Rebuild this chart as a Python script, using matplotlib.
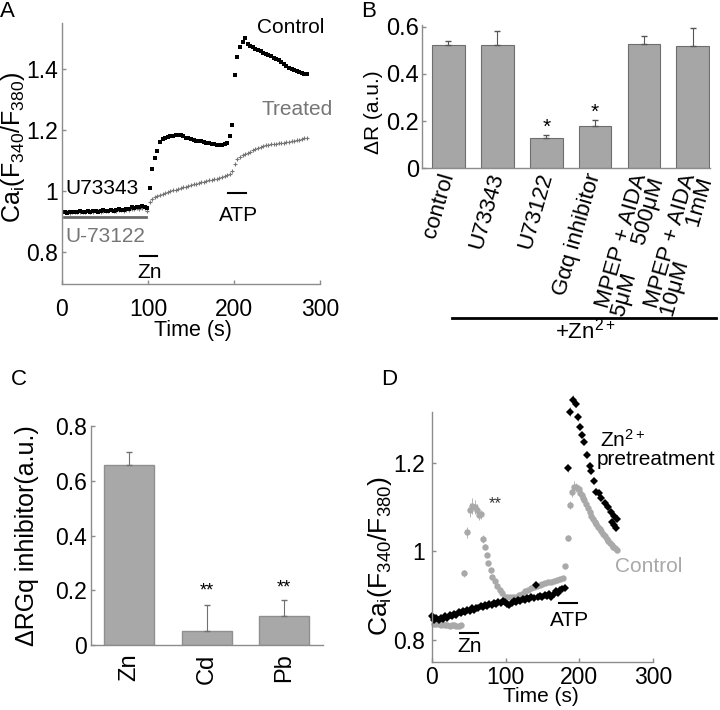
import numpy as np
import matplotlib.pyplot as plt
from matplotlib.lines import Line2D
from matplotlib.transforms import ScaledTranslation

plt.rcParams['font.family'] = ['Liberation Sans', 'DejaVu Sans']
plt.rcParams['mathtext.fontset'] = 'custom'
plt.rcParams['mathtext.rm'] = 'Liberation Sans'
plt.rcParams['mathtext.it'] = 'Liberation Sans:italic'

# ---------------- data ----------------
# panel A: ratio traces, sampled every 3 s
t_a = np.arange(0, 286, 3)
control_a = [0.930, 0.932, 0.929, 0.931, 0.933, 0.930, 0.932, 0.934, 0.931, 0.933,
             0.935, 0.932, 0.934, 0.936, 0.933, 0.935, 0.937, 0.934, 0.936, 0.938,
             0.936, 0.938, 0.940, 0.937, 0.939, 0.942, 0.940, 0.948, 0.946, 0.949,
             0.947, 0.950, 0.948, 0.943, 1.009, 1.072, 1.109, 1.133, 1.162, 1.170,
             1.174, 1.177, 1.180, 1.182, 1.183, 1.184, 1.183, 1.180, 1.176, 1.173,
             1.170, 1.168, 1.166, 1.164, 1.163, 1.161, 1.159, 1.157, 1.156, 1.155,
             1.153, 1.152, 1.153, 1.154, 1.158, 1.180, 1.216, 1.380, 1.440, 1.473,
             1.490, 1.504, 1.483, 1.478, 1.472, 1.468, 1.463, 1.459, 1.455, 1.450,
             1.446, 1.442, 1.437, 1.433, 1.429, 1.423, 1.418, 1.412, 1.405, 1.401,
             1.397, 1.394, 1.391, 1.389, 1.386, 1.384]
treated_a = [0.928, 0.931, 0.930, 0.929, 0.932, 0.931, 0.930, 0.933, 0.932, 0.931,
             0.934, 0.933, 0.932, 0.935, 0.934, 0.933, 0.936, 0.935, 0.934, 0.937,
             0.936, 0.935, 0.938, 0.937, 0.936, 0.939, 0.938, 0.940, 0.941, 0.943,
             0.942, 0.944, 0.945, 0.935, 0.965, 0.975, 0.980, 0.984, 0.988, 0.991,
             0.994, 0.997, 1.000, 1.003, 1.005, 1.008, 1.010, 1.013, 1.015, 1.018,
             1.020, 1.022, 1.024, 1.027, 1.029, 1.031, 1.033, 1.035, 1.037, 1.039,
             1.041, 1.043, 1.046, 1.049, 1.052, 1.056, 1.066, 1.090, 1.104, 1.112,
             1.118, 1.122, 1.126, 1.130, 1.134, 1.138, 1.142, 1.145, 1.148, 1.151,
             1.153, 1.154, 1.155, 1.156, 1.157, 1.158, 1.159, 1.160, 1.161, 1.163,
             1.165, 1.167, 1.169, 1.172, 1.175, 1.174]
u73122_a = (2.3, 97.7)
zn_a = (90.7, 110.5)
atp_a = (193, 214)

# panel B
b_labels = ['control', 'U73343', 'U73122', 'Gαq inhibitor',
            'MPEP + AIDA\n5μM     500μM', 'MPEP + AIDA\n10μM      1mM']
b_vals = [0.521, 0.521, 0.128, 0.179, 0.527, 0.517]
b_err = [0.020, 0.062, 0.013, 0.026, 0.033, 0.079]
b_star = ['', '', '*', '*', '', '']

# panel C
c_labels = ['Zn', 'Cd', 'Pb']
c_vals = [0.657, 0.053, 0.107]
c_err = [0.049, 0.092, 0.058]
c_star = ['', '**', '**']
c_star_y = [0, 0.197, 0.21]

# panel D: control (grey circles)
t_ctl = [0, 3, 6, 9, 12, 15, 18, 21, 24, 27, 30, 33, 36, 39,
         44, 47.5, 51, 54, 58, 61, 64, 67, 69.5, 72, 74, 76.5, 79.5, 82, 85, 88.5,
         92, 95.5, 98.5, 102, 106, 110, 114, 118, 122, 126, 130, 134, 138, 142,
         146, 150, 154, 158, 162, 166, 170, 174, 178,
         181, 184, 187, 190, 193, 196, 199, 201, 203, 205, 207, 209, 212, 214,
         216, 218, 221, 223, 226, 228, 230, 232, 235, 237, 239, 241, 244, 246, 248, 251]
y_ctl = [0.855, 0.837, 0.835, 0.836, 0.834, 0.835, 0.833, 0.834, 0.832, 0.834, 0.833, 0.832, 0.831, 0.833,
         0.951, 1.043, 1.093, 1.102, 1.101, 1.093, 1.082, 1.084, 1.028, 1.011, 0.992, 0.973, 0.958, 0.943, 0.932, 0.922,
         0.913, 0.906, 0.898, 0.897, 0.896, 0.898, 0.898, 0.901, 0.903, 0.910, 0.913, 0.917, 0.919, 0.922,
         0.924, 0.926, 0.928, 0.930, 0.931, 0.933, 0.935, 0.937, 0.939,
         0.967, 1.030, 1.105, 1.135, 1.146, 1.145, 1.140, 1.133, 1.127, 1.120, 1.116, 1.108, 1.098, 1.088,
         1.080, 1.074, 1.067, 1.062, 1.056, 1.050, 1.045, 1.040, 1.034, 1.029, 1.023, 1.019, 1.015, 1.011, 1.008, 1.004]
e_ctl = [0.004] * 14 + [0.008, 0.012, 0.016, 0.018, 0.016, 0.013, 0.012, 0.010, 0.010, 0.006,
                        0.005, 0.005, 0.004, 0.004, 0.004, 0.004] + [0.003] * 23 + \
        [0.004, 0.006, 0.010, 0.012, 0.012, 0.010, 0.010, 0.008, 0.008, 0.006, 0.006, 0.006, 0.005, 0.005,
         0.005, 0.005, 0.004, 0.004, 0.004, 0.004, 0.004, 0.004, 0.004, 0.004, 0.004, 0.004, 0.004, 0.004, 0.004, 0.004]

# panel D: Zn2+ pretreatment (black diamonds)
t_pre = list(np.arange(0, 181, 3)) + [184, 187, 191, 195, 198, 201, 204, 207, 211, 214, 216, 220,
                                      223, 227, 230, 235, 239, 243, 247, 251, 244, 247, 250]
y_pre = [0.853, 0.846, 0.849, 0.844, 0.850, 0.847, 0.853, 0.850, 0.856, 0.853,
         0.859, 0.857, 0.862, 0.860, 0.866, 0.863, 0.868, 0.866, 0.871, 0.868,
         0.873, 0.871, 0.876, 0.874, 0.878, 0.876, 0.880, 0.878, 0.883, 0.881,
         0.885, 0.883, 0.888, 0.886, 0.882, 0.878, 0.884, 0.888, 0.886, 0.891,
         0.889, 0.893, 0.891, 0.895, 0.893, 0.897, 0.895, 0.924, 0.897, 0.900,
         0.898, 0.902, 0.900, 0.903, 0.898, 0.904, 0.910, 0.906, 0.912, 0.915,
         0.918,
         1.188, 1.316, 1.343, 1.334, 1.303, 1.282, 1.264, 1.248, 1.218, 1.192, 1.181, 1.159,
         1.134, 1.132, 1.120, 1.109, 1.101, 1.090, 1.079, 1.073, 1.066, 1.060, 1.053]
e_pre = [0.003] * 61 + [0.008, 0.010, 0.010, 0.008, 0.008, 0.006, 0.006, 0.005, 0.005, 0.004, 0.004, 0.004,
                        0.004, 0.004, 0.004, 0.004, 0.004, 0.004, 0.004, 0.004, 0.004, 0.004, 0.004]
zn_d = (38, 62.4)
atp_d = (172, 197)

assert len(t_ctl) == len(y_ctl) == len(e_ctl)
assert len(t_pre) == len(y_pre) == len(e_pre)

AXC = '#8c8c8c'
GREY = '#767676'
LIGHT = '#a9a9a9'


def clean(ax, size=16.5):
    for s in ['top', 'right']:
        ax.spines[s].set_visible(False)
    for s in ['left', 'bottom']:
        ax.spines[s].set_color(AXC)
        ax.spines[s].set_linewidth(1)
    ax.tick_params(direction='in', length=3, color=AXC, labelsize=size, width=1)


fig = plt.figure(figsize=(7.2, 7.1), dpi=100)


def px_shift(dx, dy):
    return ScaledTranslation(dx / 100, dy / 100, fig.dpi_scale_trans)


# ---------------- A ----------------
axA = fig.add_axes([0.0861, 0.6, 0.3583, 0.3672])
clean(axA)
axA.plot(t_a, treated_a, '+', color=GREY, ms=2.6, mew=0.8)
axA.plot(t_a, control_a, 's', color='black', ms=2.4, mew=0)
axA.set_xlim(0, 300)
axA.set_ylim(0.695, 1.551)
axA.set_xticks([0, 100, 200, 300])
axA.set_yticks([0.8, 1.0, 1.2, 1.4], ['0.8', '1', '1.2', '1.4'])
axA.tick_params(axis='x', pad=10)
axA.tick_params(axis='y', pad=3)
axA.plot(u73122_a, [0.914, 0.914], color='#6a6a6a', lw=2)
axA.plot(zn_a, [0.787, 0.787], color='black', lw=1.5, clip_on=False)
axA.plot(atp_a, [0.993, 0.993], color='black', lw=1.5)
axA.text(266, 1.538, 'Control', fontsize=15, ha='center', va='center')
axA.text(273, 1.269, 'Treated', fontsize=15, ha='center', va='center', color=GREY)
axA.text(3.5, 1.010, 'U73343', fontsize=15, ha='left', va='center')
axA.text(3.5, 0.852, 'U-73122', fontsize=15, ha='left', va='center', color=GREY)
axA.text(102, 0.734, 'Zn', fontsize=15, ha='center', va='center')
axA.text(204.7, 0.921, 'ATP', fontsize=15, ha='center', va='center')
axA.text(0.508, -0.178, 'Time (s)', transform=axA.transAxes, fontsize=15.5, ha='center', va='center')
axA.text(-0.188, 0.525, r'Ca$_{\mathrm{i}}$(F$_{\mathrm{340}}$/F$_{\mathrm{380}}$)',
         transform=axA.transAxes, fontsize=18, ha='center', va='center', rotation=90)

# ---------------- B ----------------
axB = fig.add_axes([0.5861, 0.763, 0.4, 0.2018])
clean(axB, 17)
xb = np.arange(len(b_vals))
axB.bar(xb, b_vals, width=0.67, color='#a6a6a6', edgecolor='#6e6e6e', lw=0.8)
axB.errorbar(xb, b_vals, yerr=[np.zeros(len(b_err)), b_err], fmt='none',
             ecolor='#555555', elinewidth=0.8, capsize=2)
for x, v, e, s in zip(xb, b_vals, b_err, b_star):
    if s:
        axB.text(x, v + e + 0.032, s, ha='center', va='center', fontsize=15)
axB.set_xlim(-0.54, 5.35)
axB.set_ylim(0, 0.607)
axB.set_yticks([0, 0.2, 0.4, 0.6], ['0', '0.2', '0.4', '0.6'])
axB.tick_params(axis='y', pad=2)
axB.set_xticks([])
for x, lab in zip(xb, b_labels):
    shift = px_shift(6, -8) if '\n' in lab else px_shift(0, -5)
    axB.text(x, 0, lab, transform=axB.get_xaxis_transform() + shift,
             rotation=74, rotation_mode='anchor', ha='right', va='center',
             fontsize=16, multialignment='right', linespacing=0.8)
axB.text(-0.167, 0.39, 'ΔR (a.u.)', transform=axB.transAxes, fontsize=15,
         ha='center', va='center', rotation=90)
fig.add_artist(Line2D([0.628, 0.994], [0.5521, 0.5521], color='black', lw=2))
fig.text(0.8125, 0.534, r'+Zn$^{\mathrm{2+}}$', fontsize=16, ha='center', va='center')

# ---------------- C ----------------
axC = fig.add_axes([0.1264, 0.0915, 0.3222, 0.3085])
clean(axC)
xc = np.arange(len(c_vals))
axC.bar(xc, c_vals, width=0.645, color='#a8a8a8', edgecolor='#8f8f8f', lw=1)
axC.errorbar(xc, c_vals, yerr=[np.zeros(len(c_err)), c_err], fmt='none',
             ecolor='#707070', elinewidth=0.8, capsize=2)
for x, s, sy in zip(xc, c_star, c_star_y):
    if s:
        axC.text(x, sy, s, ha='center', va='center', fontsize=13)
axC.set_xlim(-0.49, 2.5)
axC.set_ylim(0, 0.8)
axC.set_yticks([0, 0.2, 0.4, 0.6, 0.8], ['0', '0.2', '0.4', '0.6', '0.8'])
axC.tick_params(axis='y', pad=3)
axC.set_xticks(xc)
axC.set_xticklabels(c_labels, rotation=90, fontsize=17)
axC.tick_params(axis='x', length=0, pad=6)
axC.text(-0.274, 0.50, 'ΔRGq inhibitor(a.u.)', transform=axC.transAxes, fontsize=18,
         ha='center', va='center', rotation=90)

# ---------------- D ----------------
axD = fig.add_axes([0.6, 0.0676, 0.3069, 0.3521])
clean(axD)
axD.errorbar(t_ctl, y_ctl, yerr=e_ctl, fmt='o', color=LIGHT, ms=4.6, mew=0,
             ecolor='#b5b5b5', elinewidth=0.7, capsize=1.5, clip_on=False)
axD.errorbar(t_pre, y_pre, yerr=e_pre, fmt='D', color='black', ms=4.4, mew=0,
             ecolor='#8a8a8a', elinewidth=0.7, capsize=1.5, clip_on=False)
axD.set_xlim(0, 300)
axD.set_ylim(0.75, 1.315)
axD.set_xticks([0, 100, 200, 300])
axD.set_yticks([0.8, 1.0, 1.2], ['0.8', '1', '1.2'])
axD.tick_params(axis='x', pad=3)
axD.tick_params(axis='y', pad=5)
axD.plot(zn_d, [0.816, 0.816], color='black', lw=1.5)
axD.plot(atp_d, [0.884, 0.884], color='black', lw=1.5)
axD.text(51.6, 0.784, 'Zn', fontsize=15, ha='center', va='center')
axD.text(187, 0.843, 'ATP', fontsize=15, ha='center', va='center')
axD.text(85.5, 1.107, '**', fontsize=12, ha='center', va='center', color='#333333')
axD.text(228, 1.252, r'Zn$^{\mathrm{2+}}$', fontsize=15, ha='left', va='center')
axD.text(224, 1.207, 'pretreatment', fontsize=15, ha='left', va='center')
axD.text(248, 0.965, 'Control', fontsize=15, ha='left', va='center', color=LIGHT)
axD.text(0.493, -0.138, 'Time (s)', transform=axD.transAxes, fontsize=15, ha='center', va='center')
axD.text(-0.235, 0.424, r'Ca$_{\mathrm{i}}$(F$_{\mathrm{340}}$/F$_{\mathrm{380}}$)',
         transform=axD.transAxes, fontsize=19, ha='center', va='center', rotation=90)

# panel letters
for x, y, s in [(0.0104, 0.9838, 'A'), (0.5125, 0.9838, 'B'),
                (0.0257, 0.4655, 'C'), (0.541, 0.4655, 'D')]:
    fig.text(x, y, s, fontsize=16, ha='center', va='center')

fig.savefig('out.png', dpi=100)
